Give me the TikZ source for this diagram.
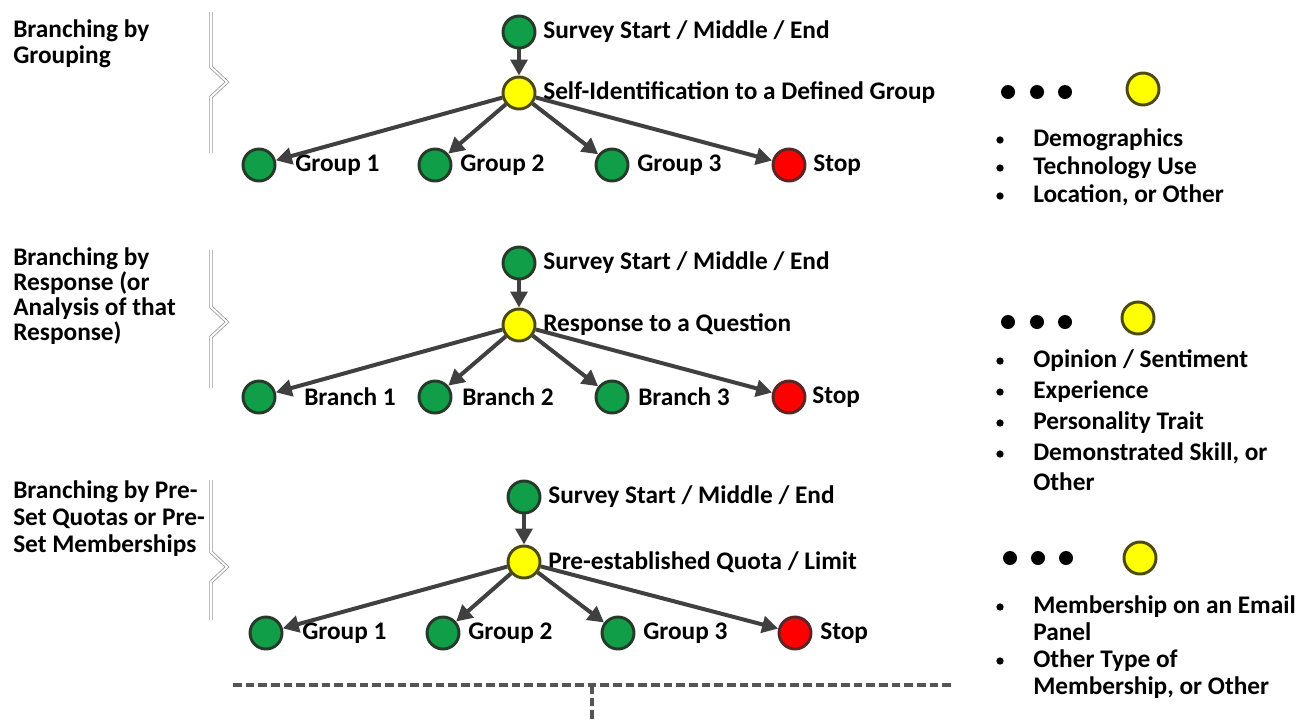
\documentclass[tikz,border=0pt]{standalone}
\usepackage{fontspec}
\setmainfont{Carlito}
\usetikzlibrary{arrows.meta}

\definecolor{nodegreen}{RGB}{16,158,72}
\definecolor{greenedge}{RGB}{38,58,42}
\definecolor{nodeyellow}{RGB}{255,255,0}
\definecolor{yellowedge}{RGB}{74,74,18}
\definecolor{nodered}{RGB}{255,0,0}
\definecolor{rededge}{RGB}{88,38,38}
\definecolor{flowgray}{RGB}{64,64,64}
\definecolor{bracegray}{RGB}{150,150,150}
\definecolor{splitgray}{RGB}{85,85,85}

\newcommand{\labelfont}{\fontsize{19}{23}\selectfont\bfseries}

\tikzset{
  dot/.style={circle, line width=2.2pt, minimum size=24pt, inner sep=0pt},
  go/.style={dot, fill=nodegreen, draw=greenedge},
  ask/.style={dot, fill=nodeyellow, draw=yellowedge},
  halt/.style={dot, fill=nodered, draw=rededge},
  lbl/.style={anchor=west, inner sep=0pt, font=\labelfont},
  txt/.style={anchor=base west, inner sep=0pt, font=\labelfont},
  flow/.style={draw=flowgray, line width=3pt, -{Triangle[length=12pt,width=12.5pt]}},
  brace/.style={draw=bracegray, double=white, line width=0.6pt, double distance=1.4pt, line join=miter},
  dotblack/.style={circle, fill=black, minimum size=10.5pt, inner sep=0pt},
  bullet/.style={circle, fill=black, minimum size=5.5pt, inner sep=0pt},
  split/.style={draw=splitgray, line width=3pt, dash pattern=on 6.5pt off 3pt}
}

\begin{document}
\begin{tikzpicture}[x=0.75pt, y=-0.75pt]
\useasboundingbox (0,0) rectangle (1299,719);

% ---------- left captions ----------
\node[txt] (c11) at (13,37) {Branching by};
\node[txt] (c12) at (13,63) {Grouping};

\node[txt] (c21) at (13,265) {Branching by};
\node[txt] (c22) at (13,290) {Response (or};
\node[txt] (c23) at (13,315) {Analysis of that};
\node[txt] (c24) at (13,340) {Response)};

\node[txt] (c31) at (13,498) {Branching by Pre-};
\node[txt] (c32) at (13,525) {Set Quotas or Pre-};
\node[txt] (c33) at (13,552) {Set Memberships};

% ---------- braces ----------
\draw[brace] (211,12) -- (211,67) -- (227,82) -- (211,97) -- (211,153);
\draw[brace] (211,250) -- (211,307) -- (227,322) -- (211,337) -- (211,388);
\draw[brace] (211,480) -- (211,552) -- (227,567) -- (211,582) -- (211,620);

% ---------- tree 1 ----------
\node[go]   (s1)  at (519,32)  {};
\node[ask]  (y1)  at (519,93)  {};
\node[go]   (g11) at (259,165) {};
\node[go]   (g12) at (435,165) {};
\node[go]   (g13) at (612,165) {};
\node[halt] (h1)  at (789,165) {};
\node[lbl] (ls1) at (543,32) {Survey Start / Middle / End};
\node[lbl] (ly1) at (543,93) {Self-Identification to a Defined Group};
\node[lbl] (l11) at (295,165) {Group 1};
\node[lbl] (l12) at (460,165) {Group 2};
\node[lbl] (l13) at (637,165) {Group 3};
\node[lbl] (lh1) at (813,165) {Stop};
\draw[flow] (s1) -- (y1);
\draw[flow] (y1) -- (g11);
\draw[flow] (y1) -- (g12);
\draw[flow] (y1) -- (g13);
\draw[flow] (y1) -- (h1);

% ---------- tree 2 ----------
\node[go]   (s2)  at (519,263) {};
\node[ask]  (y2)  at (519,325) {};
\node[go]   (g21) at (259,397) {};
\node[go]   (g22) at (435,397) {};
\node[go]   (g23) at (612,397) {};
\node[halt] (h2)  at (789,397) {};
\node[lbl] (ls2) at (543,263) {Survey Start / Middle / End};
\node[lbl] (ly2) at (543,325) {Response to a Question};
\node[lbl] (l21) at (304,397) {Branch 1};
\node[lbl] (l22) at (462,397) {Branch 2};
\node[lbl] (l23) at (638,397) {Branch 3};
\node[lbl] (lh2) at (812,397) {Stop};
\draw[flow] (s2) -- (y2);
\draw[flow] (y2) -- (g21);
\draw[flow] (y2) -- (g22);
\draw[flow] (y2) -- (g23);
\draw[flow] (y2) -- (h2);

% ---------- tree 3 ----------
\node[go]   (s3)  at (524,497) {};
\node[ask]  (y3)  at (524,562) {};
\node[go]   (g31) at (266,633) {};
\node[go]   (g32) at (443,633) {};
\node[go]   (g33) at (618,633) {};
\node[halt] (h3)  at (795,633) {};
\node[lbl] (ls3) at (548,497) {Survey Start / Middle / End};
\node[lbl] (ly3) at (548,562) {Pre-established Quota / Limit};
\node[lbl] (l31) at (302,633) {Group 1};
\node[lbl] (l32) at (468,633) {Group 2};
\node[lbl] (l33) at (643,633) {Group 3};
\node[lbl] (lh3) at (820,633) {Stop};
\draw[flow] (s3) -- (y3);
\draw[flow] (y3) -- (g31);
\draw[flow] (y3) -- (g32);
\draw[flow] (y3) -- (g33);
\draw[flow] (y3) -- (h3);

% ---------- split line at the bottom ----------
\coordinate (dl) at (233,685);
\coordinate (dr) at (953,685);
\coordinate (dm) at (592,685);
\coordinate (db) at (592,722);
\draw[split] (dl) -- (dr);
\draw[split] (dm) -- (db);

% ---------- right-hand legends ----------
\node[dotblack] (e11) at (1008,92) {};
\node[dotblack] (e12) at (1037,92) {};
\node[dotblack] (e13) at (1065,92) {};
\node[ask] (k1) at (1143,89) {};
\node[bullet] (b11) at (1000,140) {};
\node[bullet] (b12) at (1000,168) {};
\node[bullet] (b13) at (1000,196) {};
\node[txt] (t11) at (1033,146) {Demographics};
\node[txt] (t12) at (1033,174) {Technology Use};
\node[txt] (t13) at (1033,202) {Location, or Other};

\node[dotblack] (e21) at (1008,322) {};
\node[dotblack] (e22) at (1037,322) {};
\node[dotblack] (e23) at (1065,322) {};
\node[ask] (k2) at (1138,318) {};
\node[bullet] (b21) at (1000,361) {};
\node[bullet] (b22) at (1000,392) {};
\node[bullet] (b23) at (1000,423) {};
\node[bullet] (b24) at (1000,454) {};
\node[txt] (t21) at (1033,367) {Opinion / Sentiment};
\node[txt] (t22) at (1033,398) {Experience};
\node[txt] (t23) at (1033,429) {Personality Trait};
\node[txt] (t24) at (1033,460) {Demonstrated Skill, or};
\node[txt] (t25) at (1033,490) {Other};

\node[dotblack] (e31) at (1010,558) {};
\node[dotblack] (e32) at (1038,558) {};
\node[dotblack] (e33) at (1066,558) {};
\node[ask] (k3) at (1140,558) {};
\node[bullet] (b31) at (1000,607) {};
\node[bullet] (b32) at (1000,661) {};
\node[txt] (t31) at (1033,613) {Membership on an Email};
\node[txt] (t32) at (1033,640) {Panel};
\node[txt] (t33) at (1033,667) {Other Type of};
\node[txt] (t34) at (1033,694) {Membership, or Other};
\end{tikzpicture}
\end{document}
